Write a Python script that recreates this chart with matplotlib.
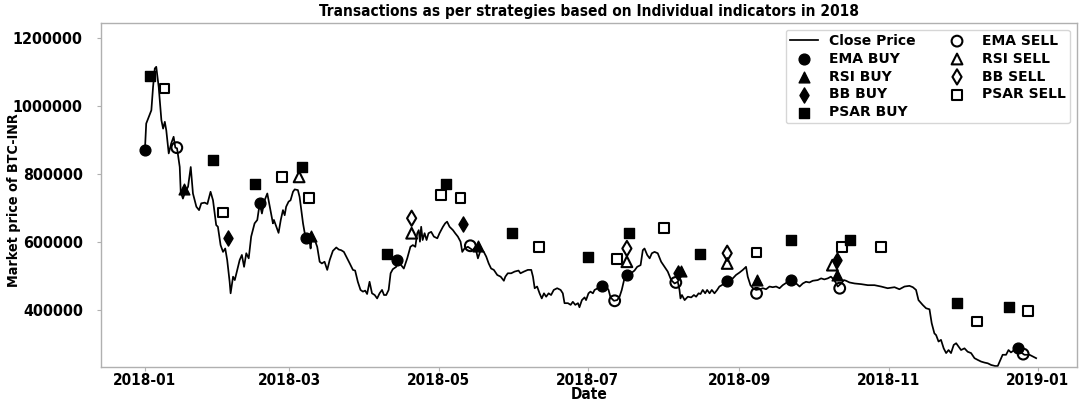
import numpy as np
import pandas as pd
import matplotlib
matplotlib.use("Agg")
import matplotlib.pyplot as plt
import matplotlib.dates as mdates
from matplotlib.font_manager import FontProperties

base = pd.Timestamp("2018-01-01")

# Close price of BTC-INR during 2018 (days since 1 Jan 2018, price in thousand INR)
close_day = [
    0.0, 0.5, 2.6, 3.3, 4.0, 4.6, 5.6, 6.7, 7.4, 8.1, 8.7, 9.7, 10.7, 11.7, 12.4, 13.1,
    14.2, 14.6, 15.5, 16.2, 17.6, 18.7, 19.6, 21.0, 22.1, 23.0, 24.4, 25.5, 26.8, 27.8,
    29.1, 29.8, 30.9, 31.9, 32.8, 33.6, 34.6, 35.0, 36.0, 36.7, 37.7, 38.7, 39.6, 40.5,
    41.4, 42.4, 43.4, 44.8, 45.9, 46.9, 47.8, 48.9, 50.0, 51.0, 52.3, 52.7, 53.7, 54.6,
    55.5, 56.4, 57.1, 57.7, 58.7, 59.5, 60.5, 61.2, 62.5, 63.2, 63.9, 64.6, 65.3, 66.3,
    67.3, 67.7, 68.2, 69.4, 70.4, 71.4, 72.3, 73.4, 74.5, 75.5, 76.8, 78.2, 79.2, 80.2,
    81.3, 82.3, 83.7, 85.0, 85.9, 87.0, 88.1, 89.1, 90.0, 90.8, 91.8, 92.8, 93.9, 94.9,
    95.9, 96.9, 97.7, 98.6, 99.6, 100.4, 101.3, 102.7, 103.7, 104.7, 105.8, 107.2, 108.5,
    109.5, 110.5, 111.3, 111.9, 112.4, 112.9, 113.5, 114.3, 115.1, 115.9, 117.0, 118.1,
    119.5, 120.4, 121.8, 122.7, 123.5, 124.5, 125.9, 126.8, 127.9, 129.0, 129.7, 130.6,
    132.0, 134.0, 135.0, 136.1, 137.2, 138.5, 139.5, 140.5, 141.5, 142.6, 144.0, 145.4,
    146.7, 147.3, 148.3, 149.7, 151.1, 152.7, 153.5, 154.9, 156.5, 157.9, 158.6, 159.3,
    160.3, 161.3, 162.2, 163.1, 164.0, 165.0, 166.0, 167.1, 168.5, 169.9, 170.8, 171.5,
    172.9, 174.0, 174.9, 175.9, 177.0, 177.6, 178.6, 179.7, 180.3, 181.3, 182.1, 183.1,
    183.8, 185.1, 186.8, 188.5, 189.5, 190.3, 191.7, 193.0, 194.0, 194.9, 196.0, 196.7,
    197.7, 198.7, 200.1, 201.2, 202.6, 203.5, 204.2, 205.3, 206.3, 207.2, 208.3, 209.6,
    211.0, 212.4, 213.7, 215.1, 216.5, 217.8, 218.5, 218.9, 219.5, 220.6, 221.9, 223.3,
    224.4, 225.3, 226.3, 227.1, 228.0, 229.0, 229.8, 230.8, 231.7, 232.8, 233.9, 234.8,
    235.8, 237.5, 238.9, 240.3, 241.6, 243.0, 244.4, 245.7, 246.4, 247.5, 248.5, 249.8,
    251.2, 252.6, 253.9, 255.3, 256.6, 258.0, 259.4, 260.7, 262.8, 264.8, 266.2, 267.6,
    268.9, 270.2, 271.6, 273.0, 275.0, 276.4, 277.7, 279.1, 280.4, 281.8, 283.2, 284.6,
    285.7, 286.6, 288.0, 290.1, 292.8, 295.5, 298.2, 300.9, 303.6, 306.4, 308.4, 310.5,
    312.5, 313.9, 315.2, 316.2, 317.9, 319.3, 320.7, 321.6, 322.7, 323.4, 324.4, 325.4,
    326.5, 327.5, 328.5, 329.5, 330.6, 331.6, 332.6, 333.6, 335.0, 336.3, 337.7, 339.1,
    340.4, 341.8, 343.2, 344.5, 345.9, 347.5, 348.6, 349.7, 350.6, 352.0, 353.0, 354.0,
    355.4, 356.8, 358.1, 359.5, 361.6, 363.0, 364.3,
]
close_price = [
    876, 949, 988, 1057, 1111, 1116, 1057, 959, 934, 954, 929, 861, 890, 910, 878, 876,
    821, 748, 728, 743, 763, 821, 743, 704, 694, 714, 716, 712, 748, 723,
    650, 645, 591, 571, 581, 547, 483, 449, 498, 488, 518, 547, 562, 527,
    567, 552, 616, 655, 665, 714, 684, 723, 743, 704, 655, 665, 645, 627,
    665, 694, 679, 704, 719, 723, 748, 755, 753, 733, 694, 655, 626, 611,
    601, 581, 616, 606, 586, 542, 537, 542, 518, 547, 574, 584, 578, 576,
    571, 557, 537, 518, 516, 483, 459, 454, 457, 447, 483, 449, 444, 434,
    449, 459, 444, 444, 459, 508, 520, 527, 547, 532, 522, 552, 586,
    591, 586, 626, 635, 601, 645, 606, 626, 606, 626, 630, 616,
    611, 626, 645, 655, 660, 645, 635, 626, 616, 601, 571, 581,
    586, 576, 586, 552, 576, 571, 557, 537, 522, 518, 503, 498,
    486, 498, 508, 508, 513, 516, 508, 513, 518, 518, 498, 464,
    469, 449, 434, 449, 439, 449, 444, 459, 464, 459, 449, 420,
    420, 415, 424, 415, 420, 408, 429, 437, 429, 449, 454, 449,
    459, 464, 473, 469, 459, 437, 427, 429, 439, 459, 493, 503,
    508, 508, 516, 527, 532, 576, 581, 562, 552, 567, 571, 567,
    542, 527, 513, 488, 478, 483, 459, 434, 444, 429, 439, 437,
    444, 439, 449, 447, 459, 449, 459, 449, 459, 449, 459, 469,
    473, 483, 488, 493, 503, 510, 518, 527, 498, 473, 464, 459,
    461, 464, 461, 469, 467, 469, 464, 473, 483, 483, 478, 469,
    478, 483, 481, 486, 488, 493, 490, 493, 498, 488, 469, 478,
    488, 486, 481, 478, 476, 473, 473, 469, 464, 467, 461, 469,
    471, 467, 459, 429, 415, 405, 402, 361, 331, 326, 307, 312,
    287, 273, 282, 273, 297, 302, 292, 282, 287, 277, 273, 258,
    253, 248, 245, 243, 238, 235, 235, 253, 268, 268, 282, 275,
    282, 282, 275, 268, 268, 263, 258,
]

# Strategy transactions (days since 1 Jan 2018, price in thousand INR)
ema_buy_day = [0, 47, 66, 103, 187, 197, 238, 264, 357]
ema_buy_price = [870, 714, 612, 547, 470, 503, 485, 488, 287]
rsi_buy_day = [16, 68, 136, 219, 250, 283]
rsi_buy_price = [755, 618, 588, 516, 488, 503]
bb_buy_day = [34, 130, 218, 283]
bb_buy_price = [611, 652, 508, 547]
psar_buy_day = [2, 28, 45, 64, 99, 123, 150, 181, 198, 227, 264, 288, 332, 353]
psar_buy_price = [1088, 841, 771, 821, 565, 770, 627, 557, 627, 565, 606, 606, 420, 410]

ema_sell_day = [13, 133, 192, 217, 250, 284, 359]
ema_sell_price = [878, 589, 427, 481, 449, 464, 270]
rsi_sell_day = [63, 109, 197, 238, 281]
rsi_sell_price = [792, 626, 542, 537, 532]
bb_sell_day = [109, 197, 238]
bb_sell_price = [670, 581, 567]
psar_sell_day = [8, 32, 56, 67, 121, 129, 161, 193, 212, 250, 285, 301, 340, 361]
psar_sell_price = [1052, 687, 792, 730, 738, 730, 586, 549, 642, 569, 586, 586, 366, 398]


def to_dates(days):
    return base + pd.to_timedelta(np.asarray(days, dtype=float), unit="D")


def to_inr(values):
    return np.asarray(values, dtype=float) * 1000


def narrow(size):
    return FontProperties(family="DejaVu Sans", weight="bold", stretch="condensed", size=size)


plt.rcParams["font.family"] = ["DejaVu Sans"]
plt.rcParams["font.weight"] = "bold"

fig = plt.figure(figsize=(10.81, 4.05), dpi=100)
ax = fig.add_axes([0.0934, 0.0938, 0.9029, 0.8494])

ax.plot(to_dates(close_day), to_inr(close_price), color="black", lw=1.25,
        label="Close Price", zorder=2)

buy_style = dict(color="black", zorder=3)
sell_style = dict(facecolors="none", edgecolors="black", linewidths=1.5, zorder=3)

ax.scatter(to_dates(ema_buy_day), to_inr(ema_buy_price), marker="o", s=60,
           label="EMA BUY", **buy_style)
ax.scatter(to_dates(rsi_buy_day), to_inr(rsi_buy_price), marker="^", s=60,
           label="RSI BUY", **buy_style)
ax.scatter(to_dates(bb_buy_day), to_inr(bb_buy_price), marker="d", s=60,
           label="BB BUY", **buy_style)
ax.scatter(to_dates(psar_buy_day), to_inr(psar_buy_price), marker="s", s=50,
           label="PSAR BUY", **buy_style)
ax.scatter(to_dates(ema_sell_day), to_inr(ema_sell_price), marker="o", s=60,
           label="EMA SELL", **sell_style)
ax.scatter(to_dates(rsi_sell_day), to_inr(rsi_sell_price), marker="^", s=60,
           label="RSI SELL", **sell_style)
ax.scatter(to_dates(bb_sell_day), to_inr(bb_sell_price), marker="d", s=60,
           label="BB SELL", **sell_style)
ax.scatter(to_dates(psar_sell_day), to_inr(psar_sell_price), marker="s", s=50,
           label="PSAR SELL", **sell_style)

ax.set_xlim(pd.Timestamp("2017-12-14"), pd.Timestamp("2019-01-17"))
ax.set_ylim(232000, 1245000)
ax.set_yticks([400000, 600000, 800000, 1000000, 1200000])
ax.ticklabel_format(axis="y", style="plain", useOffset=False)
ax.xaxis.set_major_locator(mdates.MonthLocator(bymonth=[1, 3, 5, 7, 9, 11]))
ax.xaxis.set_major_formatter(mdates.DateFormatter("%Y-%m"))

for lbl in ax.get_xticklabels():
    lbl.set_fontproperties(narrow(11))
for lbl in ax.get_yticklabels():
    lbl.set_fontproperties(narrow(11.5))

for sp in ax.spines.values():
    sp.set_color("#b0b0b0")
    sp.set_linewidth(1.0)
ax.tick_params(axis="x", length=3, width=0.8, color="#b0b0b0", pad=1.5)
ax.tick_params(axis="y", length=3, width=0.8, color="#b0b0b0", pad=10)

ax.set_xlabel("Date", fontproperties=narrow(11), labelpad=-1)
ax.set_ylabel("Market price of BTC-INR", fontproperties=narrow(10.3))
ax.yaxis.set_label_coords(-0.082, 0.485)
ax.set_title("Transactions as per strategies based on Individual indicators in 2018",
             fontproperties=narrow(11.1), pad=5)

leg = ax.legend(loc="upper right", ncol=2, frameon=True,
                prop=dict(weight="bold", size=10), handlelength=2.0,
                columnspacing=2.0, labelspacing=0.28, borderpad=0.3,
                handletextpad=0.8, bbox_to_anchor=(1.0, 1.001))
leg.get_frame().set_edgecolor("#cccccc")

fig.savefig("out.png", dpi=100)
